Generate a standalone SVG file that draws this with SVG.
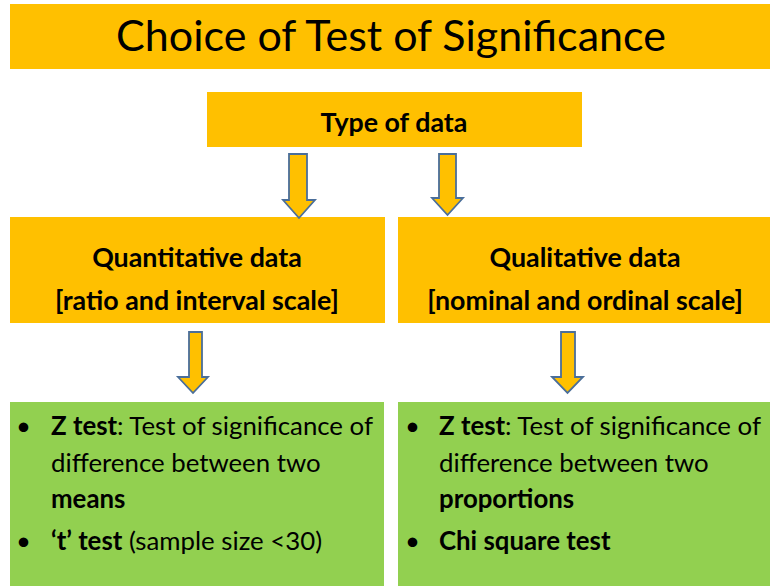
<svg xmlns="http://www.w3.org/2000/svg" width="770" height="586" viewBox="0 0 770 586">
<style>
.orange{fill:#FFC000}
.green{fill:#92D050}
.t{font-family:Lato,"Open Sans","Liberation Sans",sans-serif;fill:#000}
.b{font-weight:bold}
.h{font-size:26.8px;font-weight:bold}
.p{font-size:25.8px}
.arr{fill:#FFC000;stroke:#4A6E9A;stroke-width:1.8;stroke-linejoin:miter}
</style>
<rect width="770" height="586" fill="#fff"/>
<g id="title">
<rect class="orange" x="10" y="4" width="760" height="65"/>
<text class="t" x="391" y="51" font-size="43" text-anchor="middle">Choice of Test of Significance</text>
</g>
<g id="type">
<rect class="orange" x="207" y="92" width="375" height="55"/>
<text class="t h" x="394" y="132" text-anchor="middle">Type of data</text>
</g>
<g id="quant">
<rect class="orange" x="10" y="217" width="375" height="106"/>
<text class="t h" x="197" y="267" text-anchor="middle">Quantitative data</text>
<text class="t h" x="197" y="310" text-anchor="middle">[ratio and interval scale]</text>
</g>
<g id="qual">
<rect class="orange" x="398" y="217" width="372" height="106"/>
<text class="t h" x="585" y="267" text-anchor="middle">Qualitative data</text>
<text class="t h" x="585" y="310" text-anchor="middle">[nominal and ordinal scale]</text>
</g>
<g id="quant-tests">
<rect class="green" x="10" y="402" width="374" height="184"/>
<text class="t p"><tspan x="16" y="435">•</tspan><tspan x="51" y="435" class="b">Z test</tspan><tspan>: Test of significance of</tspan></text>
<text class="t p" x="51" y="472">difference between two</text>
<text class="t p b" x="51" y="508">means</text>
<text class="t p"><tspan x="16" y="550">•</tspan><tspan x="51" y="550" class="b">‘t’ test</tspan><tspan> (sample size &lt;30)</tspan></text>
</g>
<g id="qual-tests">
<rect class="green" x="398" y="402" width="372" height="184"/>
<text class="t p"><tspan x="405" y="435">•</tspan><tspan x="439" y="435" class="b">Z test</tspan><tspan>: Test of significance of</tspan></text>
<text class="t p" x="439" y="472">difference between two</text>
<text class="t p b" x="439" y="508">proportions</text>
<text class="t p"><tspan x="405" y="550">•</tspan><tspan x="439" y="550" class="b">Chi square test</tspan></text>
</g>
<g id="connectors">
<polygon class="arr" points="289,154 307,154 307,200 315,200 299,218 283,200 289,200"/>
<polygon class="arr" points="439,154 456,154 456,198 463,198 447.5,215 432,198 439,198"/>
<polygon class="arr" points="189,332 202,332 202,377 208,377 193,393 178,377 189,377"/>
<polygon class="arr" points="561,332 575,332 575,377 583,377 567.5,393 552,377 561,377"/>
</g>
</svg>
